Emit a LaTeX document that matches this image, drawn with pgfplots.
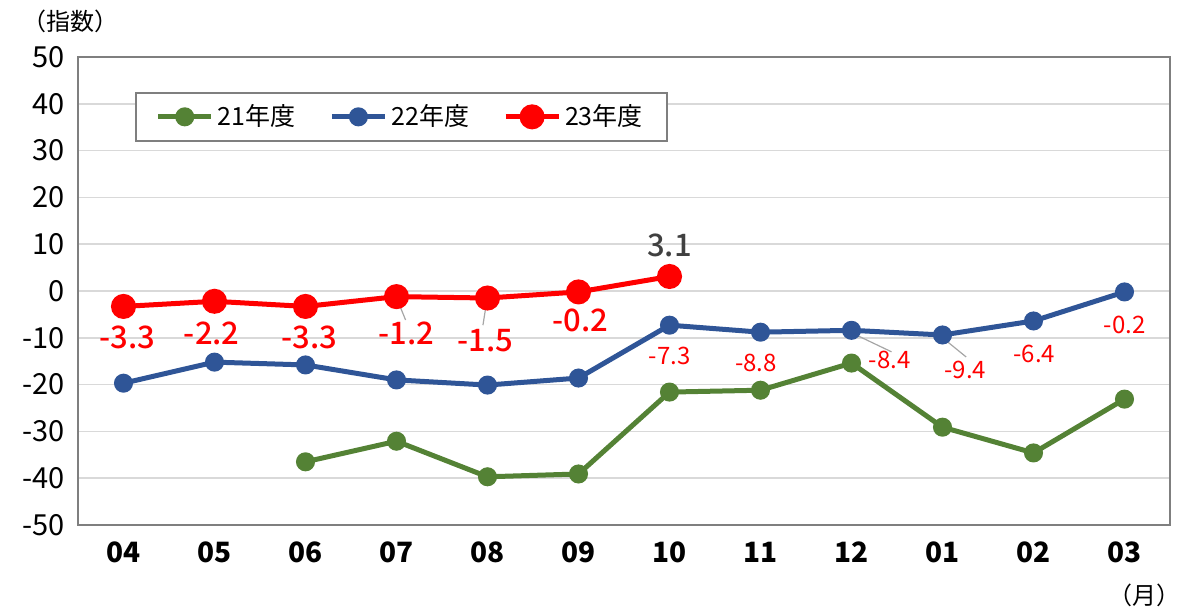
\documentclass[border=0pt]{standalone}
\usepackage{pgfplots}
\pgfplotsset{compat=1.18}
\usepackage{fontspec}
\setmainfont{Noto Sans CJK JP}
\newfontfamily\medfont{Noto Sans CJK JP Medium}
\definecolor{cgreen}{HTML}{548235}
\definecolor{cblue}{HTML}{2F5597}
\definecolor{cred}{HTML}{FF0000}
\definecolor{cgrid}{HTML}{D9D9D9}
\definecolor{cframe}{HTML}{7F7F7F}
\begin{document}
\begin{tikzpicture}
\useasboundingbox (-39pt,-42.5pt) rectangle (550pt,262.5pt);
\begin{axis}[
  at={(0,0)}, anchor=south west,
  scale only axis, width=546pt, height=234pt,
  xmin=-0.5, xmax=11.5, ymin=-50, ymax=50,
  xtick={0,...,11},
  xticklabels={04,05,06,07,08,09,10,11,12,01,02,03},
  ytick={-50,-40,...,50},
  major tick length=0pt,
  ymajorgrids, grid style={cgrid, line width=0.8pt},
  axis line style={cframe, line width=0.8pt},
  /pgf/number format/assume math mode=true,
  yticklabel style={font=\fontsize{14.5}{16}\selectfont, xshift=-3pt},
  xticklabel style={font=\fontsize{14}{16}\selectfont\bfseries, yshift=-5pt},
  legend style={at={(28.5pt,216.5pt)}, anchor=north west, draw=cframe, line width=0.8pt,
    font=\fontsize{12.5}{14}\selectfont, legend columns=3,
    /tikz/every even column/.append style={column sep=15pt},
    inner xsep=10pt, inner ysep=4pt},
  legend image code/.code={
    \draw[#1, line width=2.5pt] (0cm,0cm) -- (0.93cm,0cm);
    \path[#1] plot coordinates {(0.465cm,0cm)};
  },
  clip=false,
]
\addplot[cgreen, line width=2.5pt, mark=*, mark size=3.5pt] coordinates {
  (2,-36.5) (3,-32.1) (4,-39.7) (5,-39.1) (6,-21.6) (7,-21.2) (8,-15.4) (9,-29.1) (10,-34.6) (11,-23.1)};
\addlegendentry{21年度}
\addplot[cblue, line width=2.5pt, mark=*, mark size=3.5pt] coordinates {
  (0,-19.7) (1,-15.2) (2,-15.8) (3,-19.0) (4,-20.1) (5,-18.6) (6,-7.3) (7,-8.8) (8,-8.4) (9,-9.4) (10,-6.4) (11,-0.2)};
\addlegendentry{22年度}
\addplot[cred, line width=2.5pt, mark=*, mark size=5pt] coordinates {
  (0,-3.3) (1,-2.2) (2,-3.3) (3,-1.2) (4,-1.5) (5,-0.2) (6,3.1)};
\addlegendentry{23年度}
% leader lines
\draw[gray!70, line width=0.6pt] (axis cs:3.01,-1.9) -- (axis cs:3.10,-6.2);
\draw[gray!70, line width=0.6pt] (axis cs:3.99,-2.35) -- (axis cs:3.95,-7.3);
\draw[gray!70, line width=0.6pt] (axis cs:8.03,-9.2) -- (axis cs:8.44,-13.0);
\draw[gray!70, line width=0.6pt] (axis cs:9.02,-10.3) -- (axis cs:9.26,-14.1);
% 23 labels
\begin{scope}[every node/.style={text=cred, font=\fontsize{15.5}{17}\medfont}]
\node at (axis cs:0.04,-10.0) {-3.3};
\node at (axis cs:0.97,-9.0) {-2.2};
\node at (axis cs:2.04,-10.0) {-3.3};
\node at (axis cs:3.11,-9.0) {-1.2};
\node at (axis cs:3.98,-10.5) {-1.5};
\node at (axis cs:5.02,-6.2) {-0.2};
\end{scope}
\node[text=black!75, font=\fontsize{15.5}{17}\medfont] at (axis cs:6.0,9.8) {3.1};
% 22 labels
\begin{scope}[every node/.style={text=cred, font=\fontsize{12}{14}\selectfont}]
\node at (axis cs:6.0,-13.9) {-7.3};
\node at (axis cs:6.95,-15.4) {-8.8};
\node at (axis cs:8.42,-14.7) {-8.4};
\node at (axis cs:9.25,-16.9) {-9.4};
\node at (axis cs:10.01,-13.5) {-6.4};
\node at (axis cs:11.0,-7.3) {-0.2};
\end{scope}
\end{axis}
\node[font=\fontsize{12}{14}\selectfont] at (-3.5pt,252pt) {（指数）};
\node[font=\fontsize{12}{14}\selectfont] at (533pt,-35pt) {（月）};
\end{tikzpicture}
\end{document}
